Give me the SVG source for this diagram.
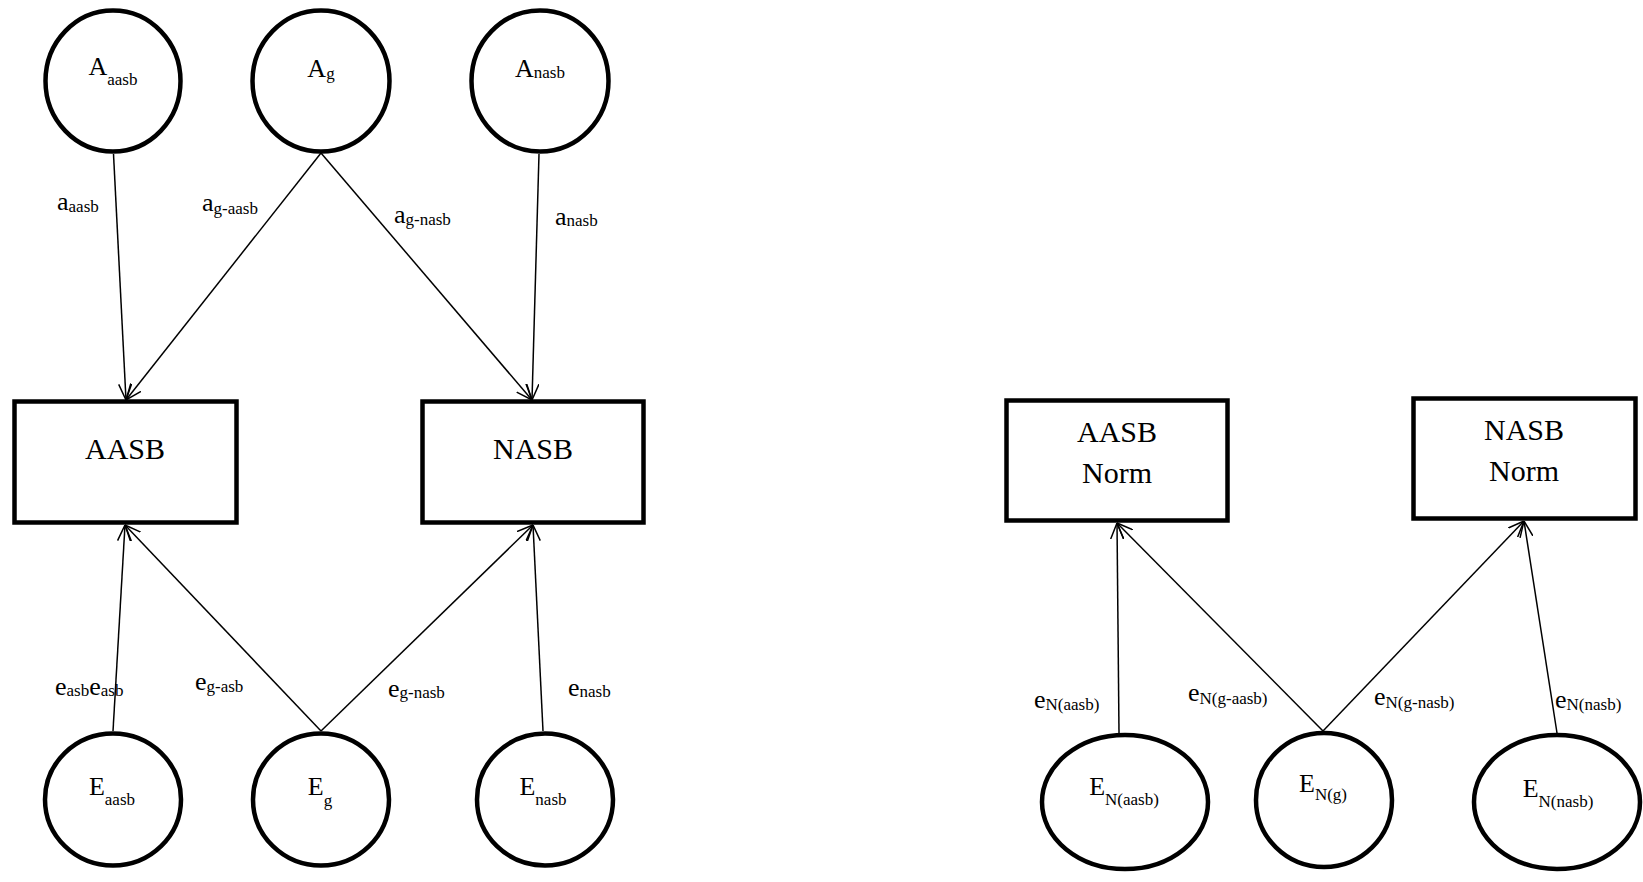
<svg xmlns="http://www.w3.org/2000/svg" width="1643" height="882" viewBox="0 0 1643 882">
<style>
.n{fill:#fff;stroke:#000;stroke-width:4.5}
.t{font-family:"Liberation Serif","Times New Roman",serif;font-size:26px;fill:#000}
.b{font-family:"Liberation Serif","Times New Roman",serif;font-size:30px;fill:#000;text-anchor:middle}
.m{text-anchor:middle}
.s{font-size:17px}
.c line{stroke:#000;stroke-width:1.5}
</style>
<defs>
<marker id="arr" viewBox="0 0 16 14" refX="16" refY="7" markerWidth="16" markerHeight="14" orient="auto" markerUnits="userSpaceOnUse">
<path d="M0,0.5 L16,7 L0,13.5" fill="none" stroke="#000" stroke-width="1.5"/>
</marker>
</defs>
<rect width="1643" height="882" fill="#fff"/>
<g id="A_aasb"><ellipse class="n" cx="113" cy="81" rx="67.5" ry="70.5"/><text class="t m" x="113" y="75">A<tspan class="s" dy="10">aasb</tspan></text></g>
<g id="A_g"><ellipse class="n" cx="321" cy="81" rx="68.5" ry="70.5"/><text class="t m" x="321" y="77">A<tspan class="s" dy="2">g</tspan></text></g>
<g id="A_nasb"><ellipse class="n" cx="540" cy="81" rx="68.5" ry="70.5"/><text class="t m" x="540" y="77">A<tspan class="s" dy="1">nasb</tspan></text></g>
<g id="AASB"><rect class="n" x="14.5" y="401.5" width="222" height="121"/><text class="b" x="125" y="459">AASB</text></g>
<g id="NASB"><rect class="n" x="422.5" y="401.5" width="221" height="121"/><text class="b" x="533" y="459">NASB</text></g>
<g id="E_aasb"><ellipse class="n" cx="113" cy="799.5" rx="68" ry="66"/><text class="t m" x="112" y="795">E<tspan class="s" dy="10">aasb</tspan></text></g>
<g id="E_g"><ellipse class="n" cx="321" cy="799.5" rx="68" ry="66"/><text class="t m" x="320" y="795">E<tspan class="s" dy="11">g</tspan></text></g>
<g id="E_nasb"><ellipse class="n" cx="545" cy="799.5" rx="68" ry="66"/><text class="t m" x="543" y="795">E<tspan class="s" dy="10">nasb</tspan></text></g>
<g id="AASB_Norm"><rect class="n" x="1006.5" y="400.5" width="221" height="120"/><text class="b" x="1117" y="442">AASB</text><text class="b" x="1117" y="483">Norm</text></g>
<g id="NASB_Norm"><rect class="n" x="1413.5" y="398.5" width="222" height="120"/><text class="b" x="1524" y="440">NASB</text><text class="b" x="1524" y="481">Norm</text></g>
<g id="E_N_aasb"><ellipse class="n" cx="1125" cy="802" rx="83" ry="67"/><text class="t m" x="1124" y="795">E<tspan class="s" dy="10">N(aasb)</tspan></text></g>
<g id="E_N_g"><ellipse class="n" cx="1324" cy="800" rx="68" ry="67"/><text class="t m" x="1323" y="792">E<tspan class="s" dy="8">N(g)</tspan></text></g>
<g id="E_N_nasb"><ellipse class="n" cx="1557" cy="802" rx="83" ry="67"/><text class="t m" x="1558" y="797">E<tspan class="s" dy="10">N(nasb)</tspan></text></g>
<g id="connectors" class="c">
<line x1="113.5" y1="154" x2="126" y2="400" marker-end="url(#arr)"/>
<line x1="321" y1="153" x2="126" y2="400" marker-end="url(#arr)"/>
<line x1="321" y1="153" x2="532" y2="400" marker-end="url(#arr)"/>
<line x1="539" y1="154" x2="532" y2="400" marker-end="url(#arr)"/>
<line x1="113" y1="731" x2="125" y2="525" marker-end="url(#arr)"/>
<line x1="321" y1="731" x2="125" y2="525" marker-end="url(#arr)"/>
<line x1="321" y1="731" x2="533" y2="525" marker-end="url(#arr)"/>
<line x1="543" y1="731" x2="533" y2="525" marker-end="url(#arr)"/>
<line x1="1119" y1="733" x2="1117" y2="523" marker-end="url(#arr)"/>
<line x1="1323" y1="731" x2="1117" y2="523" marker-end="url(#arr)"/>
<line x1="1323" y1="731" x2="1524" y2="521" marker-end="url(#arr)"/>
<line x1="1557" y1="733" x2="1524" y2="521" marker-end="url(#arr)"/>
</g>
<g id="labels">
<text class="t" x="57" y="210">a<tspan class="s" dy="2">aasb</tspan></text>
<text class="t" x="202" y="211">a<tspan class="s" dy="3">g-aasb</tspan></text>
<text class="t" x="394" y="223">a<tspan class="s" dy="2">g-nasb</tspan></text>
<text class="t" x="555" y="225">a<tspan class="s" dy="1">nasb</tspan></text>
<text class="t" x="55" y="695">e<tspan class="s" dy="1">asb</tspan><tspan dy="-1">e</tspan><tspan class="s" dy="1">asb</tspan></text>
<text class="t" x="195" y="690">e<tspan class="s" dy="2">g-asb</tspan></text>
<text class="t" x="388" y="697">e<tspan class="s" dy="1">g-nasb</tspan></text>
<text class="t" x="568" y="696">e<tspan class="s" dy="1">nasb</tspan></text>
<text class="t" x="1034" y="708">e<tspan class="s" dy="2">N(aasb)</tspan></text>
<text class="t" x="1188" y="701">e<tspan class="s" dy="3">N(g-aasb)</tspan></text>
<text class="t" x="1374" y="705">e<tspan class="s" dy="3">N(g-nasb)</tspan></text>
<text class="t" x="1555" y="708">e<tspan class="s" dy="2">N(nasb)</tspan></text>
</g>
</svg>
